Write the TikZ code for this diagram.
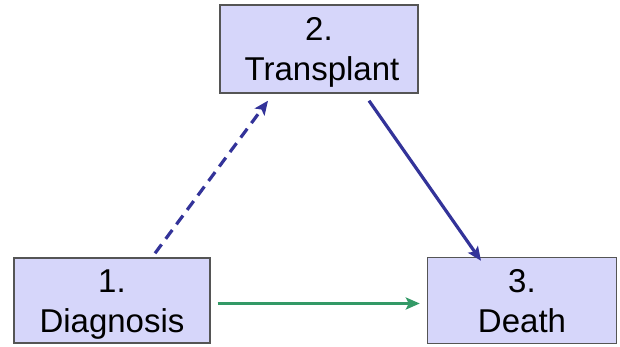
\documentclass[tikz,border=0pt]{standalone}
\usepackage{fontspec}
\setmainfont{Liberation Sans}
\usetikzlibrary{arrows.meta,calc}
\definecolor{boxfill}{RGB}{214,214,250}
\definecolor{boxline}{RGB}{85,85,85}
\definecolor{arrblue}{RGB}{51,51,153}
\definecolor{arrgreen}{RGB}{51,153,102}
\begin{document}
\begin{tikzpicture}[x=1pt,y=1pt,
  statebox/.style={draw=boxline,fill=boxfill,line width=1.4pt,inner sep=0pt},
  boxtext/.style={anchor=base,inner sep=0pt,font=\fontsize{33}{40}\selectfont},
  arr/.style={line width=3.2pt,-{Stealth[length=14pt,width=12pt,inset=3pt]}}]
\useasboundingbox (0,0) rectangle (620,346);
\node[statebox,minimum width=198pt,minimum height=88pt] (b2) at (319,297) {};
\node[statebox,minimum width=196pt,minimum height=85pt] (b1) at (112,45.5) {};
\node[statebox,minimum width=189pt,minimum height=86pt] (b3) at (522,45.5) {};
\node[boxtext] (t2a) at ($(b2.center)+(0,8.5)$) {2.};
\node[boxtext] (t2b) at ($(b2.center)+(3,-31.5)$) {Transplant};
\node[boxtext] (t1a) at ($(b1.center)+(0,8.5)$) {1.};
\node[boxtext] (t1b) at ($(b1.center)+(0,-31.5)$) {Diagnosis};
\node[boxtext] (t3a) at ($(b3.center)+(0,8.5)$) {3.};
\node[boxtext] (t3b) at ($(b3.center)+(0,-31.5)$) {Death};
\draw[arr,arrblue,dashed,dash pattern=on 11pt off 7pt] ($(b1.north)+(43,4)$) -- ($(b2.south)+(-51,-7)$);
\draw[arr,arrblue] ($(b2.south)+(50,-7)$) -- ($(b3.north)+(-41,-4)$);
\draw[arr,arrgreen] ($(b1.east)+(7,-3)$) -- ($(b3.west)+(-7,-3)$);
\end{tikzpicture}
\end{document}
